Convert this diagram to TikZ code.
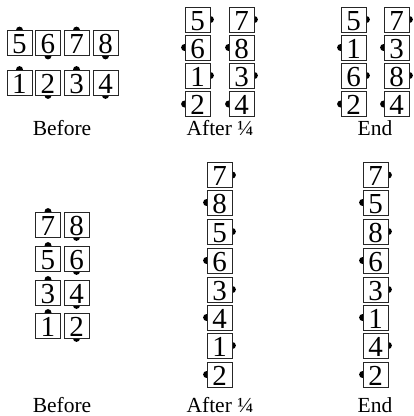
\documentclass[tikz,border=0pt]{standalone}
\usepackage{fontspec}
\setmainfont{Liberation Serif}
\usetikzlibrary{backgrounds}

\begin{document}
\begin{tikzpicture}[
    x=1pt, y=-1pt,
    leaf/.style={draw=black!85, line width=0.8pt, fill=white, minimum size=25pt, inner sep=0pt, text height=21pt, text depth=0pt, font=\fontsize{29}{29}\selectfont},
    caption/.style={font=\fontsize{21.5}{21.5}\selectfont},
    tab/.style={fill=black}
]
    \useasboundingbox (0,0) rectangle (414,416);

    % Top row: two rows of four
    \foreach \n/\x/\y/\s in {5/19.5/43/north, 6/48/43/south, 7/76.5/43/north, 8/105.5/43/south,
                             1/19.5/82.5/north, 2/48/82.5/south, 3/76.5/82.5/north, 4/105.5/82.5/south} {
        \node [leaf] (ba\n) at (\x,\y) {\n};
        \begin{scope}[on background layer]
            \fill [tab] (ba\n.\s) circle (3.5);
        \end{scope}
    }
    \foreach \n/\x/\y/\s in {5/197.5/19.5/east, 7/241.5/19.5/east, 6/197.5/47.5/west, 8/241.5/47.5/west,
                             1/197.5/75.5/east, 3/241.5/75.5/east, 2/197.5/104/west, 4/241.5/104/west} {
        \node [leaf] (qa\n) at (\x,\y) {\n};
        \begin{scope}[on background layer]
            \fill [tab] (qa\n.\s) circle (3.5);
        \end{scope}
    }
    \foreach \n/\x/\y/\s in {5/353.5/19.5/east, 7/396.5/19.5/east, 1/353.5/47.5/west, 3/396.5/47.5/west,
                             6/353.5/75.5/east, 8/396.5/75.5/east, 2/353.5/104/west, 4/396.5/104/west} {
        \node [leaf] (ea\n) at (\x,\y) {\n};
        \begin{scope}[on background layer]
            \fill [tab] (ea\n.\s) circle (3.5);
        \end{scope}
    }
    \node [caption] (before1) at (62,128) {Before};
    \node [caption] (after1) at (220,128) {After ¼};
    \node [caption] (end1) at (375,128) {End};

    % Bottom row: two columns, then one column
    \foreach \n/\x/\y/\s in {7/48/224.5/north, 8/76.5/224.5/south, 5/48/258.5/north, 6/76.5/258.5/south,
                             3/48/292.5/north, 4/76.5/292.5/south, 1/48/325.5/north, 2/76.5/325.5/south} {
        \node [leaf] (bb\n) at (\x,\y) {\n};
        \begin{scope}[on background layer]
            \fill [tab] (bb\n.\s) circle (3.5);
        \end{scope}
    }
    \foreach \n/\y/\s in {7/175/east, 8/202.5/west, 5/231.5/east, 6/260.5/west,
                          3/289.5/east, 4/317.5/west, 1/345.5/east, 2/374.5/west} {
        \node [leaf] (qb\n) at (219.5,\y) {\n};
        \begin{scope}[on background layer]
            \fill [tab] (qb\n.\s) circle (3.5);
        \end{scope}
    }
    \foreach \n/\y/\s in {7/175/east, 5/202.5/west, 8/231.5/east, 6/260.5/west,
                          3/289.5/east, 1/317.5/west, 4/345.5/east, 2/374.5/west} {
        \node [leaf] (eb\n) at (375.5,\y) {\n};
        \begin{scope}[on background layer]
            \fill [tab] (eb\n.\s) circle (3.5);
        \end{scope}
    }
    \node [caption] (before2) at (62,405) {Before};
    \node [caption] (after2) at (220,405) {After ¼};
    \node [caption] (end2) at (375,405) {End};
\end{tikzpicture}
\end{document}
